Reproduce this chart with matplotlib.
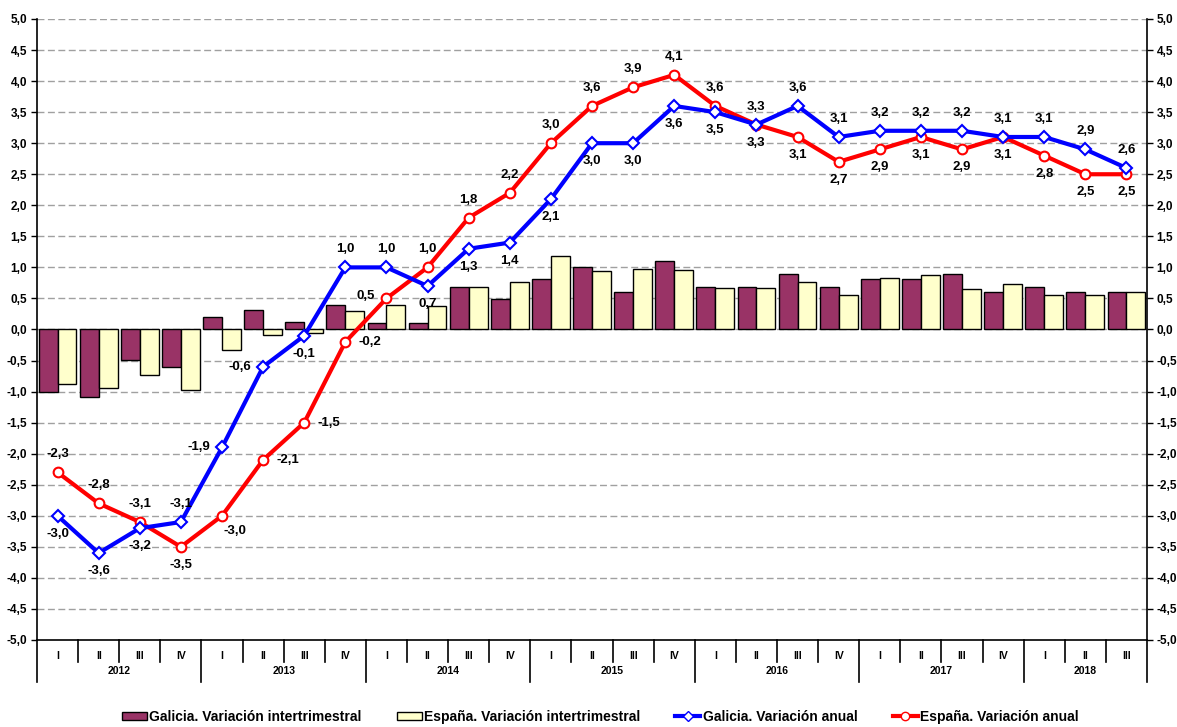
import numpy as np
import matplotlib
matplotlib.use('Agg')
from matplotlib import pyplot as plt
from matplotlib.lines import Line2D
from matplotlib.patches import Patch
import matplotlib.transforms as mtransforms

plt.rcParams['font.family'] = ['Liberation Sans', 'DejaVu Sans']
plt.rcParams['font.weight'] = 'bold'

quarters = ['I', 'II', 'III', 'IV'] * 6 + ['I', 'II', 'III']
years = ['2012', '2013', '2014', '2015', '2016', '2017', '2018']

galicia_trim = [-1.0, -1.09, -0.49, -0.6, 0.2, 0.31, 0.12, 0.4, 0.11, 0.11, 0.69, 0.49,
                0.81, 1.0, 0.61, 1.1, 0.69, 0.69, 0.9, 0.69, 0.81, 0.81, 0.9, 0.61,
                0.69, 0.61, 0.61]
espana_trim = [-0.87, -0.94, -0.74, -0.98, -0.33, -0.09, -0.06, 0.3, 0.4, 0.38, 0.69, 0.76,
               1.19, 0.94, 0.98, 0.96, 0.67, 0.67, 0.76, 0.56, 0.83, 0.88, 0.65, 0.74,
               0.56, 0.56, 0.61]
galicia_anual = [-3.0, -3.6, -3.2, -3.1, -1.9, -0.6, -0.1, 1.0, 1.0, 0.7, 1.3, 1.4, 2.1,
                 3.0, 3.0, 3.6, 3.5, 3.3, 3.6, 3.1, 3.2, 3.2, 3.2, 3.1, 3.1, 2.9, 2.6]
espana_anual = [-2.3, -2.8, -3.1, -3.5, -3.0, -2.1, -1.5, -0.2, 0.5, 1.0, 1.8, 2.2, 3.0,
                3.6, 3.9, 4.1, 3.6, 3.3, 3.1, 2.7, 2.9, 3.1, 2.9, 3.1, 2.8, 2.5, 2.5]

# where each data label sits: a=above, b=below, l=left, r=right, c=below right, d=upper left
galicia_pos = 'bbball' + 'b' + 'aa' + 'b' * 9 + 'a' * 9
espana_pos = 'aaab' + 'c' + 'rrr' + 'd' + 'a' * 9 + 'b' * 9

C_GAL = '#993366'
C_ESP = '#FFFFCC'

fig = plt.figure(figsize=(11.77, 7.27), dpi=100)
ax = fig.add_axes([37 / 1177, 1 - 640 / 727, 1110 / 1177, 621 / 727])

x = np.arange(len(quarters))
w = 0.46
ax.bar(x - w / 2, galicia_trim, w, color=C_GAL, edgecolor='black', linewidth=1, zorder=2)
ax.bar(x + w / 2, espana_trim, w, color=C_ESP, edgecolor='black', linewidth=1, zorder=2)

ax.plot(x, galicia_anual, color='#0000FF', lw=3, marker='D', ms=6, mfc='white',
        mec='#0000FF', mew=1.5, zorder=4)
ax.plot(x, espana_anual, color='#FF0000', lw=3, marker='o', ms=7, mfc='white',
        mec='#FF0000', mew=1.5, zorder=3)

offs = {'a': (0, 13), 'b': (0, -13), 'l': (-17, 0), 'r': (18, 0),
        'c': (9, -11), 'd': (-15, 2)}
for vals, pos in ((galicia_anual, galicia_pos), (espana_anual, espana_pos)):
    for i, (v, p) in enumerate(zip(vals, pos)):
        ax.annotate(f'{v:.1f}'.replace('.', ','), (i, v), xytext=offs[p],
                    textcoords='offset points', ha='center', va='center',
                    fontsize=9.5, fontweight='bold', zorder=5)

ax.set_xlim(-0.5, len(quarters) - 0.5)
ax.set_ylim(-5, 5)
yt = np.arange(-5, 5.01, 0.5)
ax.set_yticks(yt)
ax.set_yticklabels([f'{t:.1f}'.replace('.', ',') for t in yt], fontsize=8.5, fontweight='bold')
ax.tick_params(axis='y', direction='out', length=4, width=1, right=True, labelright=True, pad=3)
ax.set_xticks([])
for t in yt:
    if t > -5:
        ax.axhline(t, color='#a0a0a0', lw=1, ls=(0, (5, 2.5)), zorder=1)
ax.spines['top'].set_visible(False)
for s in ('left', 'right', 'bottom'):
    ax.spines[s].set_linewidth(1.2)

# category table below the axis
trans = mtransforms.blended_transform_factory(ax.transData, ax.transAxes)
for k in range(len(quarters) + 1):
    b = k - 0.5
    depth = 0.068 if k % 4 == 0 or k == len(quarters) else 0.035
    ax.plot([b, b], [0, -depth], transform=trans, color='black', lw=1.2, clip_on=False)
for i, q in enumerate(quarters):
    ax.text(i, -0.026, q, transform=trans, ha='center', va='center', fontsize=7.5,
            fontweight='bold')
for j, yr in enumerate(years):
    start = j * 4 - 0.5
    end = min(start + 4, len(quarters) - 0.5)
    ax.text((start + end) / 2, -0.05, yr, transform=trans, ha='center', va='center',
            fontsize=7.5, fontweight='bold')

handles = [Patch(facecolor=C_GAL, edgecolor='black'),
           Patch(facecolor=C_ESP, edgecolor='black'),
           Line2D([], [], color='#0000FF', lw=3, marker='D', ms=5, mfc='white', mec='#0000FF'),
           Line2D([], [], color='#FF0000', lw=3, marker='o', ms=6, mfc='white', mec='#FF0000')]
labels = ['Galicia. Variación intertrimestral', 'España. Variación intertrimestral',
          'Galicia. Variación anual', 'España. Variación anual']
fig.legend(handles, labels, loc='center', bbox_to_anchor=(0.51, 0.0138), ncol=4,
           frameon=False, handlelength=1.8, handleheight=0.6,
           handletextpad=0.2, columnspacing=2.5, prop={'weight': 'bold', 'size': 10})

fig.savefig('out.png', dpi=100)
